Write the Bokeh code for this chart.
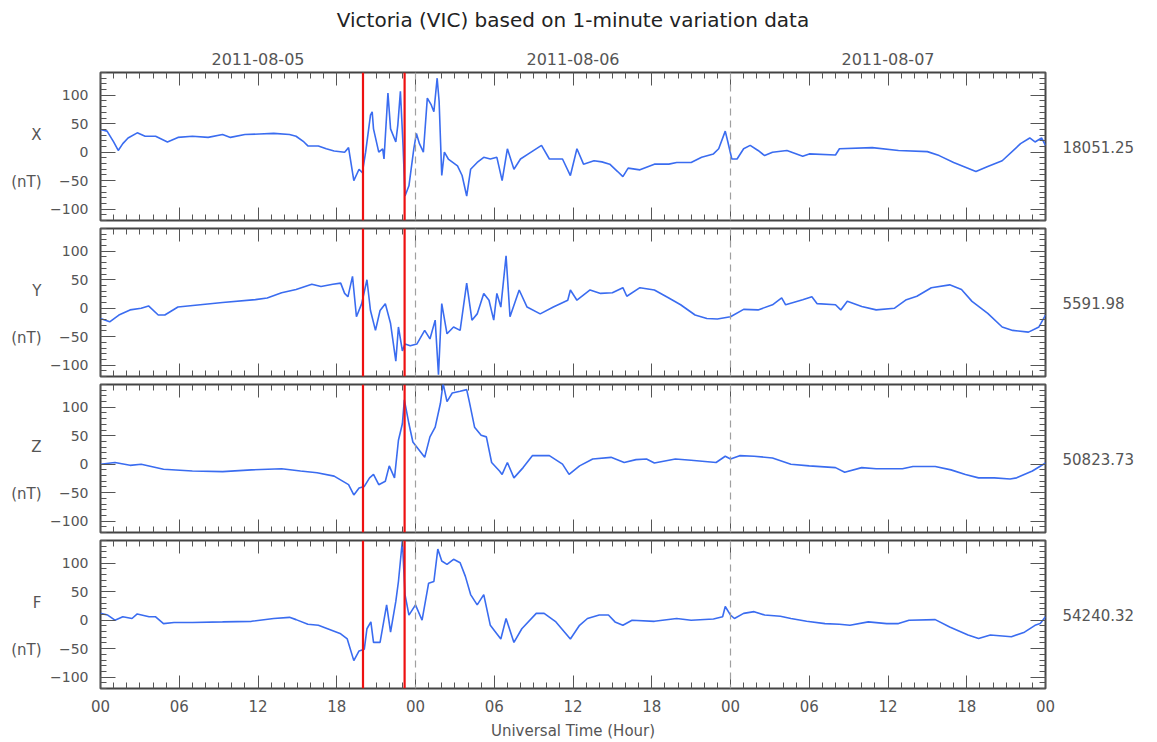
from bokeh.plotting import figure
from bokeh.layouts import column
from bokeh.models import Range1d, LinearAxis, FixedTicker, Span
from bokeh.embed import file_html
from bokeh.resources import INLINE

# ---------------- data (hours since 2011-08-05 00:00 UT, variation in nT) ----------------
TITLE = "Victoria (VIC) based on 1-minute variation data"
TITLE_X = 36          # centred over the middle of the 72-hour window
COMPONENTS = ["X", "Y", "Z", "F"]
UNIT = "(nT)"
BASELINES = ["18051.25", "5591.98", "50823.73", "54240.32"]
HOUR_TICKS = list(range(0, 73, 6))
HOUR_LABELS = ["00", "06", "12", "18"] * 3 + ["00"]
MINOR_HOURS = list(range(0, 73))
DATE_TICKS = [12, 36, 60]
DATE_LABELS = ["2011-08-05", "2011-08-06", "2011-08-07"]
Y_TICKS = [-100, -50, 0, 50, 100]
Y_MINOR = list(range(-120, 141, 10))
EVENT_HOURS = [20.0, 23.17]
DAY_BOUNDARIES = [24, 48]

X_COMP = [(0.0,40),(0.5,37),(1.0,18),(1.35,3),(1.7,15),(2.1,25),(2.8,34),(3.4,28),(4.2,28),(5.1,18),(5.9,26),
          (7.0,28),(8.2,26),(9.3,31),(9.9,26),(11.0,31),(12.1,32),(13.2,33),(14.4,31),(14.9,28),(15.5,18),(15.8,11),
          (16.6,11),(17.2,6),(17.8,2),(18.6,0),(18.9,8),(19.3,-50),(19.7,-30),(19.95,-36),(20.2,0),(20.57,65),(20.7,71),
          (20.8,41),(21.2,0),(21.5,6),(21.6,-12),(21.9,104),(22.1,41),(22.5,18),(22.65,47),(22.85,107),(23.05,12),
          (23.2,-77),(23.5,-59),(23.87,6),(24.07,33),(24.3,15),(24.6,0),(24.9,95),(25.2,83),(25.4,71),(25.65,130),
          (25.8,89),(26.0,-41),(26.2,0),(26.5,-12),(27.2,-24),(27.55,-41),(27.9,-77),(28.2,-30),(28.7,-18),(29.2,-9),
          (29.7,-12),(30.2,-9),(30.6,-50),(31.0,6),(31.5,-30),(32.0,-12),(32.6,-3),(33.6,12),(34.2,-12),(35.2,-12),
          (35.8,-41),(36.3,6),(36.8,-21),(37.6,-15),(38.2,-17),(38.8,-21),(39.4,-34),(39.8,-43),(40.2,-28),(41.1,-31),
          (42.2,-21),(43.3,-21),(43.9,-18),(45.0,-18),(45.8,-9),(46.7,-3),(47.1,6),(47.6,37),(47.8,18),(48.1,-12),
          (48.5,-12),(49.0,6),(49.5,12),(50.1,3),(50.6,-6),(51.2,0),(52.3,3),(53.5,-7),(54.0,-3),(56.0,-5),(56.3,6),
          (58.8,8),(60.8,3),(63.0,1),(63.9,-6),(65.0,-18),(66.7,-34),(67.6,-25),(68.7,-15),(70.1,15),(70.8,25),
          (71.2,18),(71.7,25),(72.0,12)]

Y_COMP = [(0.0,-18),(0.7,-24),(1.4,-12),(2.25,-3),(3.1,0),(3.66,4),(4.4,-12),(4.9,-12),(5.9,2),(7.6,6),(9.3,10),
          (11.8,15),(12.7,18),(13.8,27),(14.9,33),(16.1,42),(16.8,38),(17.7,42),(18.3,44),(18.6,26),(18.85,20),
          (19.2,56),(19.5,-15),(19.9,8),(20.3,50),(20.57,-4),(20.95,-39),(21.3,-4),(21.7,8),(22.1,-27),(22.5,-93),
          (22.7,-33),(23.0,-75),(23.2,-63),(23.6,-66),(24.1,-63),(24.7,-39),(25.1,-54),(25.5,-21),(25.75,-117),
          (26.0,8),(26.4,-45),(26.9,-33),(27.4,-39),(27.9,44),(28.3,-21),(28.7,-10),(29.2,26),(29.6,14),(29.96,-21),
          (30.2,26),(30.5,2),(30.9,92),(31.2,-15),(31.9,32),(32.5,2),(33.5,-10),(34.5,2),(35.6,14),(35.8,32),
          (36.3,14),(37.3,32),(38.1,26),(39.0,27),(39.8,36),(40.1,21),(41.1,36),(42.2,32),(43.3,18),(44.2,6),
          (45.3,-12),(46.2,-18),(47.0,-19),(48.0,-15),(49.0,-2),(50.1,-3),(51.2,6),(51.9,18),(52.2,6),(53.5,15),
          (54.2,20),(54.6,8),(56.0,6),(56.4,-3),(56.9,12),(58.0,3),(59.1,-3),(60.5,0),(61.4,15),(62.2,21),(63.3,36),
          (64.7,41),(65.6,33),(66.4,12),(67.6,-9),(68.7,-33),(69.5,-39),(70.7,-42),(71.5,-33),(72.0,-12)]

Z_COMP = [(0.0,0),(1.1,3),(2.25,-2),(3.1,0),(4.8,-9),(7.0,-12),(9.3,-13),(11.5,-10),(13.8,-8),(15.24,-12),
          (16.5,-15),(17.8,-21),(18.9,-36),(19.3,-54),(19.7,-42),(20.1,-39),(20.5,-24),(20.8,-18),(21.2,-36),
          (21.7,-30),(22.0,-3),(22.4,-24),(22.7,42),(23.0,71),(23.15,113),(23.5,71),(23.8,39),(24.3,24),(24.7,12),
          (25.1,48),(25.5,65),(25.9,107),(26.1,142),(26.4,110),(26.8,125),(27.4,128),(27.9,131),(28.1,110),
          (28.5,65),(29.0,51),(29.4,48),(29.8,3),(30.4,-12),(30.6,-18),(31.0,3),(31.5,-24),(32.2,-6),(32.9,15),
          (34.2,15),(35.2,0),(35.7,-18),(36.5,-3),(37.5,9),(38.9,12),(39.9,3),(40.8,8),(41.6,9),(42.2,2),(43.8,9),
          (45.0,7),(46.9,3),(47.6,14),(48.0,9),(48.7,15),(49.8,14),(51.2,11),(52.6,0),(54.0,-3),(56.0,-6),
          (56.7,-14),(58.0,-6),(59.1,-8),(61.1,-8),(61.9,-4),(63.6,-4),(64.8,-10),(65.9,-18),(66.9,-24),(68.1,-24),
          (69.3,-26),(69.8,-24),(71.0,-12),(72.0,2)]

F_COMP = [(0.0,12),(0.55,9),(1.1,0),(1.7,6),(2.4,3),(2.8,11),(3.7,6),(4.2,6),(4.8,-6),(5.6,-4),(7.0,-4),(9.3,-3),
          (11.5,-2),(13.2,3),(14.4,5),(14.9,1),(15.8,-7),(16.6,-9),(17.3,-15),(18.3,-24),(18.8,-33),(19.3,-71),
          (19.7,-54),(20.1,-51),(20.3,-15),(20.6,-3),(20.8,-39),(21.3,-39),(21.8,27),(22.1,-21),(22.5,33),(22.7,68),
          (23.0,140),(23.2,45),(23.5,9),(24.0,27),(24.5,0),(25.0,65),(25.4,68),(25.7,125),(26.0,104),(26.4,98),
          (26.9,107),(27.4,101),(27.8,77),(28.2,45),(28.7,27),(29.2,45),(29.7,-9),(30.5,-33),(30.9,3),(31.5,-39),
          (32.1,-15),(33.2,12),(33.8,12),(34.7,-3),(35.8,-33),(36.5,-9),(37.1,3),(38.0,9),(38.7,9),(39.2,-3),
          (39.8,-9),(40.5,0),(42.2,-2),(43.9,3),(45.0,0),(46.7,2),(47.4,6),(47.6,24),(48.0,9),(48.3,3),(49.0,12),
          (49.8,15),(50.6,9),(51.8,7),(52.6,3),(53.8,-2),(55.2,-6),(56.3,-7),(57.1,-9),(58.5,-3),(59.9,-6),
          (60.8,-6),(61.6,0),(63.6,1),(64.7,-12),(66.1,-26),(66.9,-32),(67.8,-26),(69.4,-29),(70.4,-21),(71.2,-9),
          (71.6,-6),(72.0,6)]

SERIES = [X_COMP, Y_COMP, Z_COMP, F_COMP]
COMP_LABEL_Y = 30     # y (nT) where the component letter sits
UNIT_LABEL_Y = -52    # y (nT) where "(nT)" sits
BASELINE_Y = 10       # y (nT) of the baseline value text (panel centre)

# ---------------- styling ----------------
FONT = "DejaVu Sans"
TXT = "#555555"
TICK = "#555555"
LINE = "#3a6cf0"


def style_axis(ax, major_in, minor_in, font_size="14px", standoff=10):
    ax.axis_line_color = None
    ax.major_tick_line_color = TICK
    ax.minor_tick_line_color = TICK
    ax.major_tick_line_width = 1
    ax.minor_tick_line_width = 1
    ax.major_tick_in = major_in
    ax.major_tick_out = 0
    ax.minor_tick_in = minor_in
    ax.minor_tick_out = 0
    ax.major_label_text_font = FONT
    ax.major_label_text_color = TXT
    ax.major_label_text_font_size = font_size
    ax.major_label_standoff = standoff
    return ax


def text_axis(ticks, labels, font_size, standoff, color=TXT):
    ax = LinearAxis(ticker=FixedTicker(ticks=ticks, minor_ticks=[]))
    style_axis(ax, 0, 0, font_size, standoff)
    ax.major_tick_line_color = None
    ax.minor_tick_line_color = None
    ax.major_label_text_color = color
    ax.major_label_overrides = dict(zip(ticks, labels))
    return ax


def make_panel(idx):
    first = idx == 0
    last = idx == len(SERIES) - 1
    p = figure(title=None, frame_width=945, frame_height=148,
               x_range=Range1d(0, 72), y_range=Range1d(-120, 140),
               output_backend="svg", toolbar_location=None,
               x_axis_location=None, y_axis_location=None,
               min_border_left=100, min_border_right=105,
               min_border_top=72 if first else 4,
               min_border_bottom=4 if not last else 0,
               background_fill_color="white", border_fill_color="white")
    p.grid.visible = False
    p.outline_line_color = "#444444"
    p.outline_line_width = 2

    # left axis (labelled), then outer left axis carrying the component name and unit
    la = LinearAxis(ticker=FixedTicker(ticks=Y_TICKS, minor_ticks=Y_MINOR))
    style_axis(la, 15, 6, "14px", 12)
    p.add_layout(la, "left")
    p.add_layout(text_axis([COMP_LABEL_Y, UNIT_LABEL_Y], [COMPONENTS[idx], UNIT], "15px", 6), "left")

    # right axis (ticks only), then outer right axis carrying the baseline value
    ra = LinearAxis(ticker=FixedTicker(ticks=Y_TICKS, minor_ticks=Y_MINOR))
    style_axis(ra, 15, 6, "0px", 0)
    ra.major_label_overrides = {t: "" for t in Y_TICKS}
    p.add_layout(ra, "right")
    p.add_layout(text_axis([BASELINE_Y], [BASELINES[idx]], "15px", 17), "right")

    # top axis
    ta = LinearAxis(ticker=FixedTicker(ticks=HOUR_TICKS, minor_ticks=MINOR_HOURS))
    if first:
        style_axis(ta, 13, 6, "16px", 8)
        ov = {t: "" for t in HOUR_TICKS}
        for t, lab in zip(DATE_TICKS, DATE_LABELS):
            ov[t] = lab
        ta.major_label_overrides = ov
    else:
        style_axis(ta, 13, 6, "0px", 0)
        ta.major_label_overrides = {t: "" for t in HOUR_TICKS}
    p.add_layout(ta, "above")
    if first:
        # chart title, carried by an outer label-only axis above the date axis
        p.add_layout(text_axis([TITLE_X], [TITLE], "20px", 18, "#222222"), "above")

    # bottom axis
    ba = LinearAxis(ticker=FixedTicker(ticks=HOUR_TICKS, minor_ticks=MINOR_HOURS))
    if last:
        style_axis(ba, 13, 6, "15px", 11)
        ba.major_label_overrides = dict(zip(HOUR_TICKS, HOUR_LABELS))
        ba.axis_label = "Universal Time (Hour)"
        ba.axis_label_text_font = FONT
        ba.axis_label_text_font_style = "normal"
        ba.axis_label_text_font_size = "15px"
        ba.axis_label_text_color = TXT
        ba.axis_label_standoff = 7
    else:
        style_axis(ba, 13, 6, "0px", 0)
        ba.major_label_overrides = {t: "" for t in HOUR_TICKS}
    p.add_layout(ba, "below")

    # day boundaries
    for d in DAY_BOUNDARIES:
        p.add_layout(Span(location=d, dimension="height", line_color="#a0a0a0",
                          line_dash="7 5", line_width=1.2))

    hours = [h for h, _ in SERIES[idx]]
    vals = [v for _, v in SERIES[idx]]
    p.line(hours, vals, line_color=LINE, line_width=1.6)

    for e in EVENT_HOURS:
        p.add_layout(Span(location=e, dimension="height", line_color="#ee1111", line_width=2.2))
    return p


panels = [make_panel(i) for i in range(len(SERIES))]
layout = column(*panels, spacing=0)

open("out.html", "w").write(file_html(layout, INLINE))
